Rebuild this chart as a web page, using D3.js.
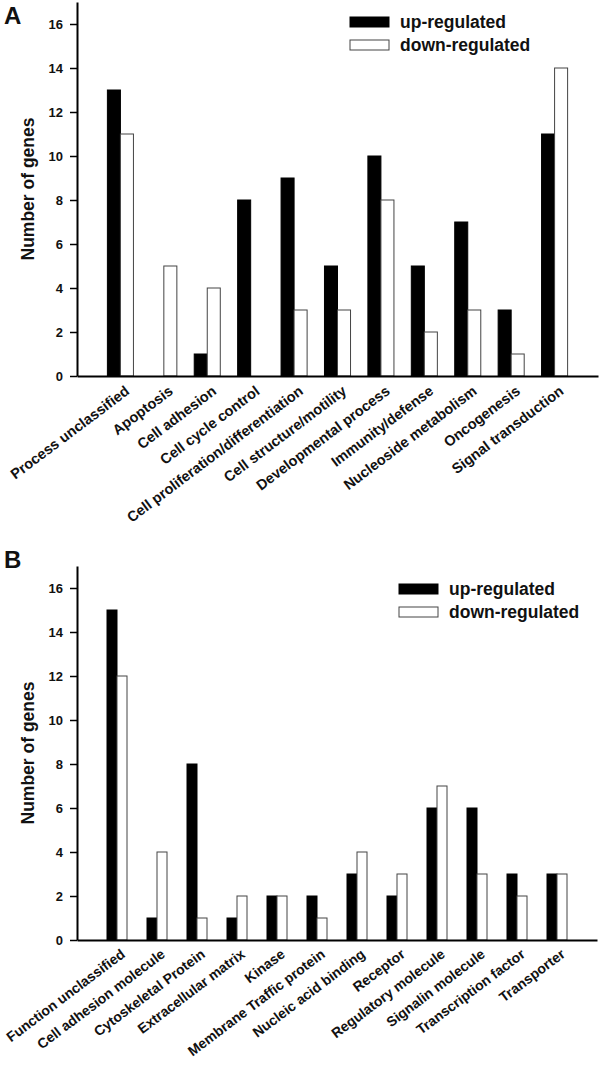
<!DOCTYPE html>
<html>
<head>
<meta charset="utf-8">
<script src="https://cdn.jsdelivr.net/npm/d3@7"></script>
<style>
  html, body { margin: 0; padding: 0; background: #fff; }
  svg { display: block; font-family: "Liberation Sans", Arial, sans-serif; font-weight: bold; }
</style>
</head>
<body>
<svg id="chart" width="600" height="1066"></svg>
<script>
// ---------- Data ----------
const seriesNames = ["up-regulated", "down-regulated"];

const categoriesA = ["Process unclassified", "Apoptosis", "Cell adhesion", "Cell cycle control",
  "Cell proliferation/differentiation", "Cell structure/motility", "Developmental process",
  "Immunity/defense", "Nucleoside metabolism", "Oncogenesis", "Signal transduction"];
const upA   = [13, 0, 1, 8, 9, 5, 10, 5, 7, 3, 11];
const downA = [11, 5, 4, 0, 3, 3, 8, 2, 3, 1, 14];

const categoriesB = ["Function unclassified", "Cell adhesion molecule", "Cytoskeletal Protein",
  "Extracellular matrix", "Kinase", "Membrane Traffic protein", "Nucleic acid binding",
  "Receptor", "Regulatory molecule", "Signalin molecule", "Transcription factor", "Transporter"];
const upB   = [15, 1, 8, 1, 2, 2, 3, 2, 6, 6, 3, 3];
const downB = [12, 4, 1, 2, 2, 1, 4, 3, 7, 3, 2, 3];

const yTicks = [0, 2, 4, 6, 8, 10, 12, 14, 16];

// ---------- Drawing ----------
const svg = d3.select("#chart");
const FONT = "'Liberation Sans', Arial, sans-serif";

function drawPanel(opt) {
  const g = svg.append("g");
  const y = d3.scaleLinear().domain([0, 17]).range([opt.bottom, opt.top]);
  const x0 = d3.scaleBand().domain(opt.categories).range([opt.left, opt.right])
    .paddingInner(0).paddingOuter(0.5);
  const step = x0.step();
  const inner = step * opt.barFrac;
  const x1 = d3.scaleBand().domain(seriesNames)
    .range([(step - inner) / 2, (step + inner) / 2]);

  const rows = opt.categories.map((c, i) => ({ cat: c, vals: [opt.up[i], opt.down[i]] }));

  // bars
  const grp = g.selectAll("g.cat").data(rows).join("g")
    .attr("class", "cat")
    .attr("transform", d => `translate(${x0(d.cat)},0)`);
  grp.selectAll("rect").data(d => d.vals.map((v, k) => ({ s: seriesNames[k], v })))
    .join("rect")
    .filter(d => d.v > 0)
    .attr("x", d => x1(d.s))
    .attr("width", x1.bandwidth())
    .attr("y", d => y(d.v))
    .attr("height", d => y(0) - y(d.v))
    .attr("fill", d => d.s === "up-regulated" ? "#000" : "#fff")
    .attr("stroke", d => d.s === "up-regulated" ? "#000" : "#444")
    .attr("stroke-width", 1);

  // y axis
  const yAxis = d3.axisLeft(y).tickValues(yTicks).tickSize(7).tickPadding(7).tickSizeOuter(0);
  const ya = g.append("g").attr("transform", `translate(${opt.left},0)`).call(yAxis)
    .attr("font-family", FONT).attr("font-size", 13).attr("font-weight", "bold");
  ya.select(".domain").attr("stroke", "#000").attr("stroke-width", 2);
  ya.selectAll(".tick line").attr("stroke", "#000").attr("stroke-width", 1.5);
  ya.selectAll(".tick text").attr("fill", "#111");

  // x axis
  const xAxis = d3.axisBottom(x0).tickSize(0).tickSizeOuter(0).tickPadding(0);
  const xa = g.append("g").attr("transform", `translate(0,${opt.bottom})`).call(xAxis)
    .attr("font-family", FONT).attr("font-size", opt.labelSize).attr("font-weight", "bold");
  xa.select(".domain").attr("stroke", "#000").attr("stroke-width", 2);
  xa.selectAll(".tick text")
    .attr("fill", "#111")
    .attr("text-anchor", "end")
    .attr("dy", 0).attr("y", 0).attr("x", 0)
    .attr("transform", `translate(${opt.labelDx},${opt.labelDy}) rotate(-37)`);

  // y label
  g.append("text")
    .attr("transform", `translate(34,${(opt.top + opt.bottom) / 2}) rotate(-90)`)
    .attr("text-anchor", "middle")
    .attr("font-size", 17.5).attr("fill", "#111")
    .text("Number of genes");

  // panel letter
  g.append("text").attr("x", 4).attr("y", opt.top + opt.letterDy)
    .attr("font-size", 24).attr("fill", "#111").text(opt.letter);

  // legend
  const lg = g.append("g").attr("transform", `translate(${opt.legX},${opt.legY})`);
  seriesNames.forEach((s, k) => {
    lg.append("rect").attr("x", 0).attr("y", k * 23).attr("width", 39).attr("height", 10)
      .attr("fill", k === 0 ? "#000" : "#fff").attr("stroke", k === 0 ? "#000" : "#444")
      .attr("stroke-width", 1);
    lg.append("text").attr("x", 50).attr("y", k * 23 + 11)
      .attr("font-size", 17.5).attr("fill", "#111").text(s);
  });
}

drawPanel({ categories: categoriesA, up: upA, down: downA, top: 2, bottom: 376,
  left: 77, right: 598, barFrac: 0.6, letter: "A", letterDy: 22, legX: 350, legY: 17,
  labelSize: 14.5, labelDx: 10, labelDy: 17 });
drawPanel({ categories: categoriesB, up: upB, down: downB, top: 566, bottom: 940,
  left: 77, right: 597, barFrac: 0.5, letter: "B", letterDy: 2, legX: 399, legY: 584,
  labelSize: 14, labelDx: 9, labelDy: 16 });
</script>
</body>
</html>
